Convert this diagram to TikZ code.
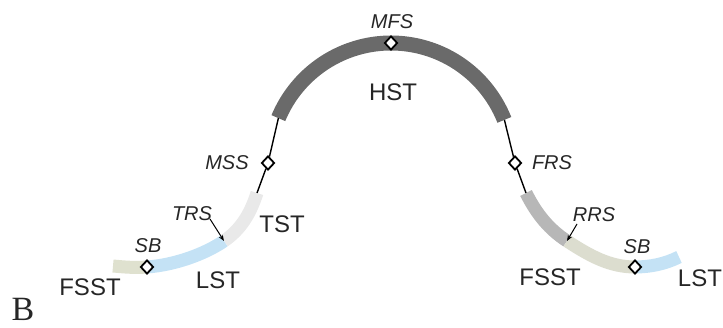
\documentclass[tikz,border=0pt]{standalone}
\usepackage{fontspec}
\setmainfont{Liberation Sans}
\newfontfamily\serifB{Liberation Serif}
\usetikzlibrary{shapes.geometric,arrows.meta}
\definecolor{hstcol}{HTML}{6A6A6A}
\definecolor{tstcol}{HTML}{E9E9E9}
\definecolor{lstcol}{HTML}{C4E2F5}
\definecolor{fsstl}{HTML}{DFE1CF}
\definecolor{rrscol}{HTML}{B7B7B7}
\definecolor{fsstr}{HTML}{DCDDCF}
\definecolor{txt}{HTML}{262626}
\begin{document}
\begin{tikzpicture}[x=1pt,y=-1pt,
  band/.style={line width=13pt,line cap=butt},
  diam/.style={diamond,draw=black,fill=white,line width=1.8pt,minimum width=13pt,minimum height=14pt,inner sep=0pt},
  conn/.style={line width=1.4pt,draw=black},
  lbl/.style={font=\fontsize{24}{26}\selectfont,text=txt,inner sep=0pt},
  ilbl/.style={font=\fontsize{20}{22}\selectfont\itshape,text=txt,inner sep=0pt},
  arr/.style={line width=1pt,draw=black,-{Stealth[length=6pt,width=4.5pt]}}
]
\useasboundingbox (0,0) rectangle (723,328);
% key coordinates
\coordinate (hstL) at (278.4,118.1);
\coordinate (hstR) at (504.4,119.9);
\coordinate (tstTop) at (257,193);
\coordinate (trsP) at (224,241);
\coordinate (sbLp) at (147,267);
\coordinate (fsstLend) at (113,266);
\coordinate (rgTop) at (526,193);
\coordinate (rrsP) at (567,241);
\coordinate (sbRp) at (635,267);
\coordinate (lstRend) at (679,257);
% bands
\draw[band,hstcol,line width=15pt] plot[domain=-157.4:-21.7,samples=80] ({391+122*cos(\x)},{165+122*sin(\x)});
\draw[band,tstcol] (tstTop) .. controls (250,215) and (240,230) .. (trsP);
\draw[band,lstcol] (trsP) .. controls (205,254) and (175,265) .. (sbLp);
\draw[band,fsstl] (sbLp) .. controls (135,268) and (124,267) .. (fsstLend);
\draw[band,rrscol] (rgTop) .. controls (537,215) and (550,230) .. (rrsP);
\draw[band,fsstr] (rrsP) .. controls (590,256) and (610,267) .. (sbRp);
\draw[band,lstcol] (sbRp) .. controls (650,267) and (665,264) .. (lstRend);
% diamonds
\node[diam] (mfs) at (391,43) {};
\node[diam] (mss) at (268,163) {};
\node[diam] (frs) at (515,163) {};
\node[diam] (sbl) at (147,267) {};
\node[diam] (sbr) at (635,267) {};
% connectors
\draw[conn] (hstL) -- (mss) -- (tstTop);
\draw[conn] (hstR) -- (frs) -- (rgTop);
% labels
\node[ilbl] (lmfs) at (392,22) {MFS};
\node[lbl] (lhst) at (393,92) {HST};
\node[ilbl] (lmss) at (227,163) {MSS};
\node[ilbl] (lfrs) at (552,163) {FRS};
\node[ilbl] (ltrs) at (192,214) {TRS};
\node[lbl] (ltst) at (282,224) {TST};
\node[ilbl] (lsbl) at (148,246) {SB};
\node[lbl] (lfsstl) at (90,287) {FSST};
\node[lbl] (llstl) at (218,280) {LST};
\node[ilbl] (lrrs) at (594,215) {RRS};
\node[ilbl] (lsbr) at (637,247) {SB};
\node[lbl] (lfsstr) at (550,277) {FSST};
\node[lbl] (llstr) at (700,278) {LST};
\node[font=\serifB\fontsize{34}{36}\selectfont,text=txt,inner sep=0pt] (lb) at (23,309) {B};
% arrows
\coordinate (trsA) at (210,219);
\coordinate (rrsA) at (577,224);
\draw[arr] (trsA) -- (trsP);
\draw[arr] (rrsA) -- (rrsP);
\end{tikzpicture}
\end{document}
